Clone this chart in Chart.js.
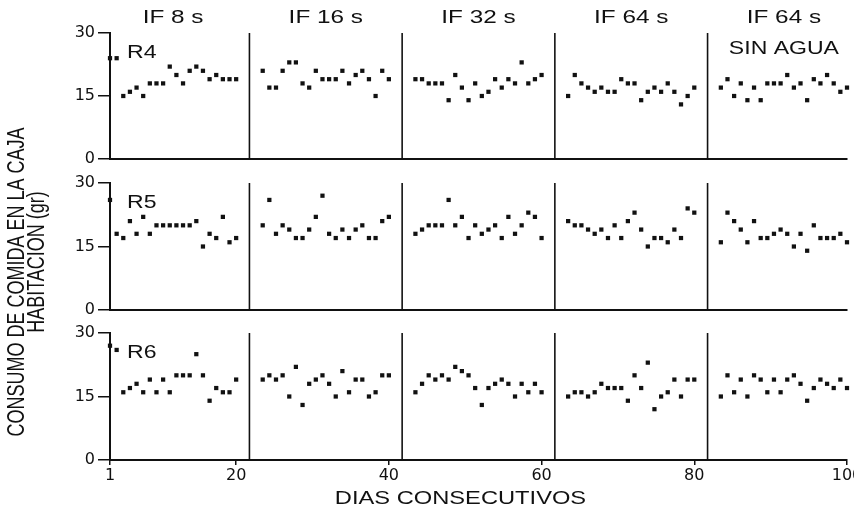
<!DOCTYPE html>
<html><head><meta charset="utf-8">
<script src="https://cdn.jsdelivr.net/npm/chart.js@4/dist/chart.umd.min.js"></script>
<style>
html,body{margin:0;padding:0;background:#fff;overflow:hidden;width:854px;height:512px;}
canvas{position:absolute;left:0;top:0;}
</style></head><body>
<canvas id="c0" width="880" height="512"></canvas>
<canvas id="c1" width="880" height="512"></canvas>
<canvas id="c2" width="880" height="512"></canvas>
<script>
// ---------- data ----------
const conditionLabels = ['IF 8 s', 'IF 16 s', 'IF 32 s', 'IF 64 s', 'IF 64 s'];
const conditionNotes  = ['', '', '', '', 'SIN AGUA'];
const conditionStarts = [1, 21, 41, 61, 81];
const xTickLabels = [1, 20, 40, 60, 80, 100];
const yTickLabels = [0, 15, 30];
const subjects = ['R4', 'R5', 'R6'];
const yTitle = ['CONSUMO DE COMIDA EN LA CAJA', 'HABITACION (gr)'];
const xTitle = 'DIAS CONSECUTIVOS';

const r4 = [24,24,15,16,17,15,18,18,18,22,20,18,21,22,21,19,20,19,19,19,
            21,17,17,21,23,23,18,17,21,19,19,19,21,18,20,21,19,15,21,19,
            19,19,18,18,18,14,20,17,14,18,15,16,19,17,19,18,23,18,19,20,
            15,20,18,17,16,17,16,16,19,18,18,14,16,17,16,18,16,13,15,17,
            17,19,15,18,14,17,14,18,18,18,20,17,18,14,19,18,20,18,16,17];
const r5 = [26,18,17,21,18,22,18,20,20,20,20,20,20,21,15,18,17,22,16,17,
            20,26,18,20,19,17,17,19,22,27,18,17,19,17,19,20,17,17,21,22,
            18,19,20,20,20,26,20,22,17,20,18,19,20,17,22,18,20,23,22,17,
            21,20,20,19,18,19,17,20,17,21,23,19,15,17,17,16,19,17,24,23,
            16,23,21,19,16,21,17,17,18,19,18,15,18,14,20,17,17,17,18,16];
const r6 = [27,26,16,17,18,16,19,16,19,16,20,20,20,25,20,14,17,16,16,19,
            19,20,19,20,15,22,13,18,19,20,18,15,21,16,19,19,15,16,20,20,
            16,18,20,19,20,19,22,21,20,17,13,17,18,19,18,15,18,16,18,16,
            15,16,16,15,16,18,17,17,17,14,20,17,23,12,15,16,19,15,19,19,
            15,20,16,19,15,20,19,16,19,16,19,20,18,14,17,19,18,17,19,17];
const series = [r4, r5, r6];

// ---------- layout / style ----------
const INK = '#111';
const GAP = 3;               // visual break between conditions, in day units
const STRETCH = 1.28;        // horizontal stretch of the lettering
const PANELS = [{top:33, bottom:159}, {top:183, bottom:310}, {top:333, bottom:460}];
const CANVAS_H = 512, CANVAS_W = 880, AXIS_RIGHT = 847, AXIS_LEFT = 110, XAXIS_H = 28;
const FONT = '"Liberation Sans", Arial, Helvetica, sans-serif';

function warp(v){
  let k = 0;
  for (let i = 1; i < conditionStarts.length; i++) if (v >= conditionStarts[i]) k++;
  return v + GAP * k;
}
class BrokenDayScale extends Chart.LinearScale {
  getPixelForValue(v){ return super.getPixelForValue(v == null ? v : warp(v)); }
}
BrokenDayScale.id = 'brokenday';
Chart.register(BrokenDayScale);

function hText(ctx, text, x, y, size, align){
  ctx.save();
  ctx.translate(x, y);
  ctx.scale(STRETCH, 1);
  ctx.font = size + 'px ' + FONT;
  ctx.fillStyle = INK;
  ctx.textAlign = align || 'center';
  ctx.textBaseline = 'middle';
  ctx.fillText(text, 0, 0);
  ctx.restore();
}
function vText(ctx, text, x, y, size){
  ctx.save();
  ctx.translate(x, y);
  ctx.rotate(-Math.PI / 2);
  ctx.scale(1, STRETCH);
  ctx.font = size + 'px ' + FONT;
  ctx.fillStyle = INK;
  ctx.textAlign = 'center';
  ctx.textBaseline = 'middle';
  ctx.fillText(text, 0, 0);
  ctx.restore();
}

const overlay = {
  id: 'overlay',
  afterDraw(chart, args, opts){
    const ctx = chart.ctx, a = chart.chartArea, x = chart.scales.x;
    const lastDay = series[0].length;
    ctx.save();
    ctx.strokeStyle = INK; ctx.lineWidth = 1.6;
    for (let i = 1; i < conditionStarts.length; i++){
      const px = (x.getPixelForValue(conditionStarts[i] - 1) + x.getPixelForValue(conditionStarts[i])) / 2;
      ctx.beginPath(); ctx.moveTo(px, a.top); ctx.lineTo(px, a.bottom); ctx.stroke();
    }
    ctx.restore();
    hText(ctx, opts.subject, a.left + 17, a.top + 20, 18, 'left');
    if (opts.first){
      conditionStarts.forEach((s, i) => {
        const e = i + 1 < conditionStarts.length ? conditionStarts[i + 1] - 1 : lastDay;
        const cx = (x.getPixelForValue(s) + x.getPixelForValue(e)) / 2;
        hText(ctx, conditionLabels[i], cx, a.top - 15, 19);
        if (conditionNotes[i]) hText(ctx, conditionNotes[i], cx, a.top + 16, 18);
      });
    }
    if (opts.last){
      hText(ctx, xTitle, (a.left + a.right) / 2 - 18, 499, 18.5);
      vText(ctx, yTitle[0], 18, 282, 18);
      vText(ctx, yTitle[1], 38, 262, 18);
    }
  }
};

function makeChart(idx){
  const values = series[idx];
  const isLast = idx === series.length - 1;
  const p = PANELS[idx];
  const xh = isLast ? XAXIS_H : 0;
  return new Chart(document.getElementById('c' + idx), {
    type: 'scatter',
    data: { datasets: [{
      data: values.map((v, i) => ({x: i + 1, y: v})),
      pointStyle: 'rect', pointRadius: 3, pointBackgroundColor: INK,
      pointBorderWidth: 0, showLine: false, clip: false
    }]},
    options: {
      responsive: false, animation: false, events: [],
      layout: { padding: { top: p.top, bottom: CANVAS_H - p.bottom - xh, left: 0, right: CANVAS_W - AXIS_RIGHT } },
      plugins: { legend: {display: false}, tooltip: {enabled: false},
                 overlay: { subject: subjects[idx], first: idx === 0, last: isLast } },
      scales: {
        x: {
          type: 'brokenday', min: 1, max: warp(xTickLabels[xTickLabels.length - 1]), bounds: 'data',
          afterBuildTicks: s => { s.ticks = xTickLabels.map(v => ({value: v})); },
          afterFit: s => { s.height = xh; },
          border: { display: true, color: INK, width: 2 },
          grid: { display: true, drawOnChartArea: false, drawTicks: isLast, tickLength: 5, color: INK, lineWidth: 1.5 },
          ticks: { display: isLast, autoSkip: false, maxRotation: 0, padding: 1, color: INK,
                   font: { family: 'DejaVu Sans', size: 16 }, callback: v => String(v) }
        },
        y: {
          min: 0, max: 30,
          afterBuildTicks: s => { s.ticks = yTickLabels.map(v => ({value: v})); },
          afterFit: s => { s.width = AXIS_LEFT; },
          border: { display: true, color: INK, width: 2 },
          grid: { display: true, drawOnChartArea: false, drawTicks: true, tickLength: 12, color: INK, lineWidth: 1.5 },
          ticks: { padding: 3, color: INK, font: { family: 'DejaVu Sans', size: 16 }, callback: v => String(v) }
        }
      }
    },
    plugins: [overlay]
  });
}
series.forEach((_, i) => makeChart(i));
</script>
</body></html>
